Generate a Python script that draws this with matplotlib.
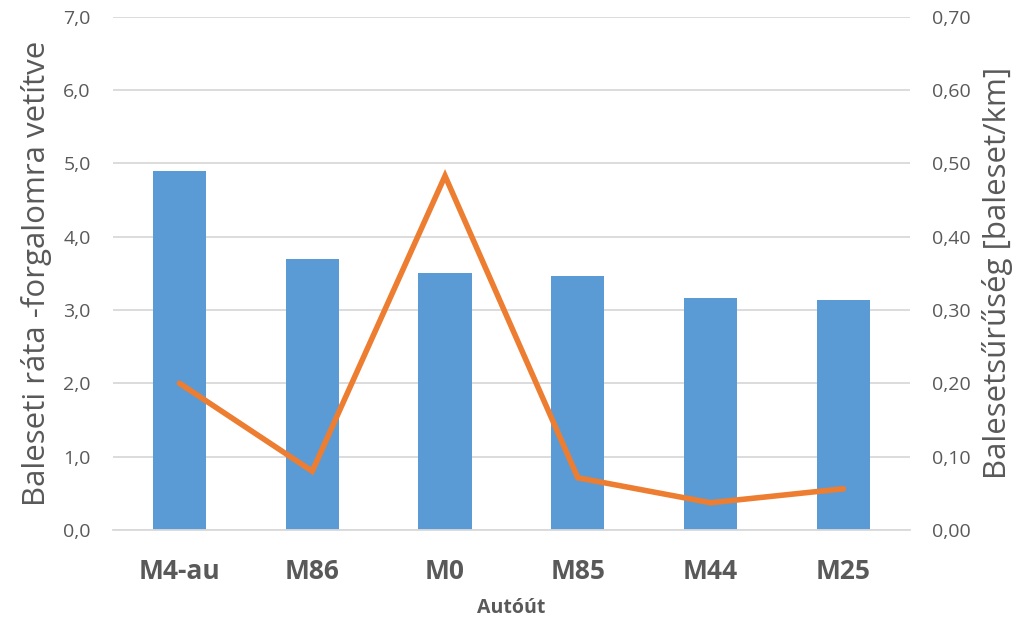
import numpy as np
import matplotlib.pyplot as plt

plt.rcParams['font.family'] = ['Open Sans', 'DejaVu Sans']

# Road sections and their values
roads = ["M4-au", "M86", "M0", "M85", "M44", "M25"]
rate = [4.90, 3.70, 3.50, 3.46, 3.17, 3.13]          # accident rate (traffic weighted)
density = [0.200, 0.080, 0.483, 0.071, 0.037, 0.056]  # accidents per km

grey = "#595959"

fig = plt.figure(figsize=(10.28, 6.27), dpi=100)
ax = fig.add_axes([0.110, 0.155, 0.775, 0.818])
x = np.arange(len(roads))

ax.bar(x, rate, width=0.4, color="#5B9BD5", zorder=2)
ax.set_xlim(-0.5, len(roads) - 0.5)
ax.set_ylim(0, 7)
ax.set_yticks(np.arange(0, 8, 1))
ax.set_yticklabels([f"{v:.1f}".replace(".", ",") for v in np.arange(0, 8, 1)])
ax.yaxis.grid(True, color="#D9D9D9", linewidth=1.3, zorder=0)
ax.set_axisbelow(True)
ax.set_xticks(x)
ax.set_xticklabels(roads, fontsize=19, fontweight="bold", color=grey)
ax.tick_params(axis="x", length=0, pad=20)
ax.tick_params(axis="y", length=0, pad=16, labelsize=14, labelcolor=grey)
ax.set_xlabel("Autóút", fontsize=14, fontweight="bold", color=grey, labelpad=10)
ax.set_ylabel("Baleseti ráta -forgalomra vetítve", fontsize=22.5, color=grey, labelpad=8)
for s in ax.spines.values():
    s.set_visible(False)
ax.spines["bottom"].set_visible(True)
ax.spines["bottom"].set_color("#D9D9D9")
ax.spines["bottom"].set_linewidth(1.3)

ax2 = ax.twinx()
ax2.plot(x, density, color="#ED7D31", linewidth=4, solid_capstyle="round",
         solid_joinstyle="miter", zorder=3)
ax2.set_ylim(0, 0.7)
ax2.set_yticks(np.arange(0, 0.71, 0.1))
ax2.set_yticklabels([f"{v:.2f}".replace(".", ",") for v in np.arange(0, 0.71, 0.1)])
ax2.tick_params(axis="y", length=0, pad=16, labelsize=14, labelcolor=grey)
ax2.set_ylabel("Balesetsűrűség [baleset/km]", fontsize=22.5, color=grey, labelpad=8)
for s in ax2.spines.values():
    s.set_visible(False)

fig.savefig("out.png", dpi=100)
